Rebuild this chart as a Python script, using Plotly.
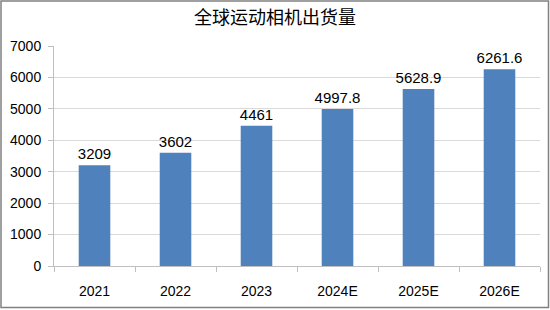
import plotly.graph_objects as go

categories = ["2021", "2022", "2023", "2024E", "2025E", "2026E"]
values = [3209, 3602, 4461, 4997.8, 5628.9, 6261.6]
labels = ["3209", "3602", "4461", "4997.8", "5628.9", "6261.6"]
title = "全球运动相机出货量"

W, H = 550, 310
ml, mr, mt, mb = 54, 10, 46, 44
pw, ph = W - ml - mr, H - mt - mb

fig = go.Figure(go.Bar(
    x=categories, y=values, text=labels, textposition="outside",
    constraintext="none",
    textfont=dict(size=15, color="#000000", family="Liberation Sans"),
    marker=dict(color="#4F81BD", line=dict(width=0)),
    width=0.39, cliponaxis=False,
))

def px2x(p):
    return (p - ml) / pw

def px2y(p):
    return (H - mb - p) / ph

fig.add_shape(type="rect", xref="paper", yref="paper",
              x0=px2x(1), x1=px2x(548.5), y0=px2y(307.5), y1=px2y(1),
              line=dict(color="#808080", width=1.5), fillcolor="rgba(0,0,0,0)")

fig.update_layout(
    width=W, height=H,
    margin=dict(l=ml, r=mr, t=mt, b=mb),
    paper_bgcolor="white", plot_bgcolor="white",
    title=dict(text=title, x=0.5, xanchor="center", y=1 - 18 / H, yanchor="middle",
               font=dict(size=18, color="#000000", family="Noto Sans CJK SC")),
    showlegend=False,
    font=dict(family="Liberation Sans", size=14, color="#000000"),
    xaxis=dict(type="category", showline=True, linecolor="#BFBFBF", linewidth=1,
               ticks="outside", tickson="boundaries", ticklen=5, tickcolor="#BFBFBF",
               ticklabelstandoff=12,
               showgrid=False, tickfont=dict(size=14), fixedrange=True),
    yaxis=dict(range=[0, 7000], dtick=1000, showline=True, linecolor="#BFBFBF", linewidth=1,
               ticks="outside", ticklen=5, tickcolor="#BFBFBF",
               ticklabelstandoff=4,
               showgrid=True, gridcolor="#D9D9D9", gridwidth=1,
               tickfont=dict(size=14), zeroline=False, fixedrange=True),
)

fig.write_html("out.html")
